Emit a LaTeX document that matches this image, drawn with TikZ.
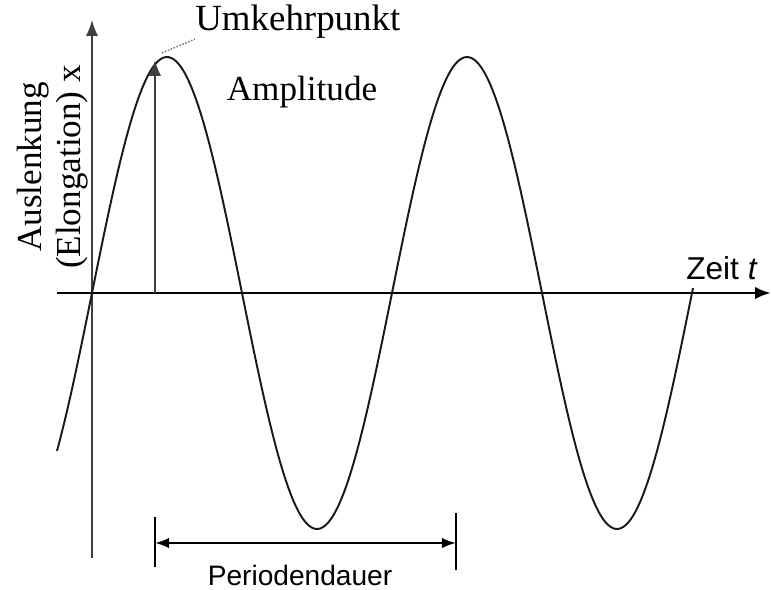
\documentclass[tikz,border=0pt]{standalone}
\usepackage{fontspec}
\setmainfont{Liberation Serif}
\newfontfamily\labelsans{Liberation Sans}
\usepackage{tikz}
\usetikzlibrary{arrows.meta,positioning,calc}

\begin{document}
\begin{tikzpicture}[
  x=0.02cm, y=-0.02cm,
  axis/.style   = {line width=1.6pt, -{Latex[length=9pt,width=7pt]}},
  yaxis/.style  = {line width=1.1pt, draw=black!75, -{Latex[length=9pt,width=7pt]}},
  wave/.style   = {line width=1.1pt, draw=black!90},
  amparr/.style = {line width=1.1pt, draw=black!75, -{Latex[length=9pt,width=7pt]}},
  lead/.style   = {line width=0.8pt, draw=black!60, densely dotted},
  tick/.style   = {line width=1.3pt},
  dimarr/.style = {line width=1.3pt, {Latex[length=8pt,width=6pt]}-{Latex[length=8pt,width=6pt]}},
  lbl/.style    = {font=\fontsize{20}{24}\selectfont, inner sep=0pt},
  slbl/.style   = {font=\labelsans\fontsize{16}{19}\selectfont, inner sep=0pt},
]
\useasboundingbox (0,0) rectangle (771,589);

%% ─── axes ─────────────────────────────────────────────────────────────────
\coordinate (xstart) at (57,293);
\coordinate (xend)   at (771,293);
\coordinate (ybot)   at (92,558);
\coordinate (ytop)   at (92,20);
\draw[axis]  (xstart) -- (xend);
\draw[yaxis] (ybot) -- (ytop);

%% ─── oscillation ──────────────────────────────────────────────────────────
\draw[wave] plot[domain=57:693, samples=240, smooth]
  (\x, {293 - 236*sin(1.2*(\x-92))});
\coordinate (peak) at (167,57);

%% ─── amplitude arrow ──────────────────────────────────────────────────────
\coordinate (ampfoot) at (155,293);
\coordinate (amptop)  at (155,60);
\draw[amparr] (ampfoot) -- (amptop);
\node[lbl] (amp) at (302,92) {Amplitude};

%% ─── turning point label ──────────────────────────────────────────────────
\node[lbl, anchor=west, font=\fontsize{21}{25}\selectfont] (umk) at (195,22) {Umkehrpunkt};
\draw[lead] ($(peak)+(-5,-4)$) -- (umk.south west);

%% ─── axis labels ──────────────────────────────────────────────────────────
\node[lbl, rotate=90] (ausl) at (33,167) {Auslenkung};
\node[lbl, rotate=90] (elong) at (72,167) {(Elongation) x};
\node[slbl, font=\labelsans\fontsize{18}{21}\selectfont] (zeit) at (722,268) {Zeit \textit{t}};

%% ─── period ───────────────────────────────────────────────────────────────
\coordinate (pl) at (155,543);
\coordinate (pr) at (456,543);
\draw[tick] ($(pl)+(0,-26)$) -- ($(pl)+(0,24)$);
\draw[tick] ($(pr)+(0,-30)$) -- ($(pr)+(0,27)$);
\draw[dimarr] (pl) -- (pr);
\node[slbl] (per) at (300,575) {Periodendauer};

\end{tikzpicture}
\end{document}
